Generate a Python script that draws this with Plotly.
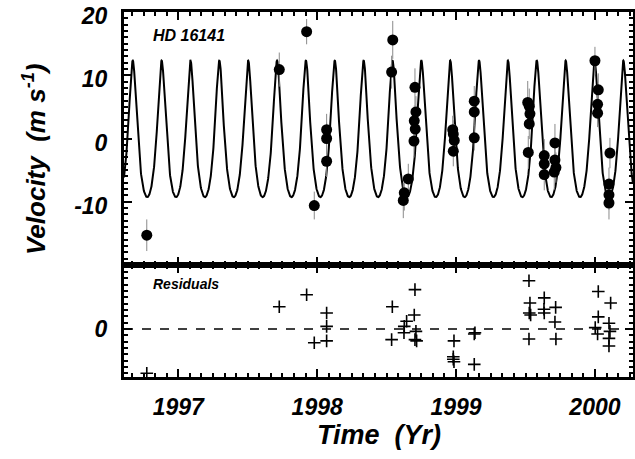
import numpy as np
import plotly.graph_objects as go
from plotly.subplots import make_subplots

# ---- data ----
obs_time = [1996.773, 1997.727, 1997.924, 1997.979, 1998.068, 1998.068, 1998.068,
            1998.544, 1998.536, 1998.656, 1998.627, 1998.620, 1998.704, 1998.711,
            1998.699, 1998.706, 1998.697, 1998.976, 1998.980, 1998.987, 1998.980,
            1999.131, 1999.131, 1999.131, 1999.516, 1999.527, 1999.532, 1999.527,
            1999.520, 1999.635, 1999.635, 1999.635, 1999.712, 1999.712, 1999.719,
            1999.707, 2000.000, 2000.024, 2000.019, 2000.019, 2000.108, 2000.101,
            2000.101, 2000.101]
obs_vel = [-15.3, 10.9, 16.9, -10.6, 1.4, 0.0, -3.6,
           15.6, 10.5, -6.4, -8.6, -9.8, 8.1, 4.2,
           2.8, 1.5, -0.4, 1.4, 0.7, -0.3, -2.0,
           5.9, 4.2, 0.1, 5.7, 5.1, 3.9, 2.3,
           -2.2, -2.7, -4.0, -5.7, -0.7, -3.4, -4.6,
           -5.3, 12.3, 7.7, 5.4, 4.0, -2.3, -7.2,
           -8.9, -10.2]
obs_err = [2.5, 2.7, 2.0, 2.2, 2.5, 2.5, 2.5,
           3.0, 2.6, 2.4, 2.8, 2.8, 3.0, 2.5,
           2.4, 2.5, 2.6, 2.2, 2.2, 2.6, 2.4,
           2.4, 2.2, 2.0, 3.4, 2.8, 2.5, 2.4,
           2.6, 2.6, 2.4, 2.5, 3.0, 2.6, 2.4,
           2.8, 2.2, 2.6, 2.4, 2.2, 2.4, 2.6,
           2.4, 2.6]

res_time = [1996.773, 1997.727, 1997.924, 1997.979, 1998.068, 1998.068, 1998.068,
            1998.541, 1998.536, 1998.644, 1998.627, 1998.625, 1998.704, 1998.699,
            1998.711, 1998.704, 1998.716, 1998.985, 1998.980, 1998.985, 1998.980,
            1999.136, 1999.131, 1999.131, 1999.525, 1999.532, 1999.527, 1999.537,
            1999.525, 1999.635, 1999.633, 1999.635, 1999.717, 1999.712, 1999.719,
            2000.024, 2000.024, 2000.002, 2000.019, 2000.113, 2000.101, 2000.108,
            2000.101, 2000.101]
res_vel = [-7.0, 3.5, 5.4, -2.2, 2.5, 0.4, -1.9,
           3.5, -1.7, 1.2, 0.4, -0.6, 6.2, 2.2,
           -0.4, -1.7, -1.9, -1.9, -4.4, -5.2, -4.8,
           -0.6, -0.8, -5.6, 7.6, 4.1, 2.5, 2.2,
           -1.6, 4.9, 3.1, 2.5, 3.4, 1.1, -1.6,
           5.9, 1.9, 0.2, -0.8, 4.1, 0.9, -0.4,
           -1.5, -2.7]

# orbital fit elements
orbit_period = 0.2078      # yr
orbit_K = 10.8             # m/s
orbit_e = 0.28
orbit_omega = 0.0          # rad
orbit_tperi = 1996.672     # yr
orbit_gamma = -1.5         # m/s

year_ticks = [1997, 1998, 1999, 2000]
vel_ticks = [-10, 0, 10, 20]
vel_tick_text = ["-10", "0", "10", "20"]
x_range = [1996.609, 2000.274]

# ---- model curve ----
t = np.linspace(x_range[0], x_range[1], 3000)
M = 2 * np.pi * (t - orbit_tperi) / orbit_period
E = M.copy()
for _ in range(30):
    E = E - (E - orbit_e * np.sin(E) - M) / (1 - orbit_e * np.cos(E))
nu = 2 * np.arctan2(np.sqrt(1 + orbit_e) * np.sin(E / 2), np.sqrt(1 - orbit_e) * np.cos(E / 2))
model = orbit_gamma + orbit_K * (np.cos(nu + orbit_omega) + orbit_e * np.cos(orbit_omega))

FONT = "Liberation Sans, Arial, sans-serif"

fig = make_subplots(rows=2, cols=1, shared_xaxes=True, vertical_spacing=0,
                    row_heights=[0.693, 0.307])

fig.add_trace(go.Scatter(x=t, y=model, mode="lines",
                         line=dict(color="black", width=2), hoverinfo="skip"), row=1, col=1)
fig.add_trace(go.Scatter(x=obs_time, y=obs_vel, mode="markers",
                         marker=dict(color="black", size=11),
                         error_y=dict(type="data", array=obs_err, color="#8a8a8a",
                                      thickness=1, width=0)), row=1, col=1)
fig.add_trace(go.Scatter(x=res_time, y=res_vel, mode="markers",
                         marker=dict(symbol="cross-thin", size=9,
                                     line=dict(color="black", width=1.6))), row=2, col=1)

minor_x = dict(dtick=1/12, tick0=1997, ticks="inside", ticklen=4,
               tickwidth=2, tickcolor="black")
minor_y = dict(dtick=1, tick0=0, ticks="inside", ticklen=4,
               tickwidth=2, tickcolor="black")

axis_common = dict(showline=True, linecolor="black", linewidth=3, mirror="ticks",
                   ticks="inside", tickcolor="black", tickwidth=2, ticklen=8,
                   showgrid=False, zeroline=False, automargin=False,
                   ticklabeloverflow="allow",
                   tickfont=dict(family=FONT, size=23, color="black",
                                 weight="bold", style="italic"))

fig.update_xaxes(**axis_common, range=x_range, tickvals=year_ticks, minor=minor_x)
fig.update_xaxes(showticklabels=False, row=1, col=1)
fig.update_xaxes(showticklabels=True, ticklabelstandoff=7, row=2, col=1)

fig.update_yaxes(**axis_common)
fig.update_yaxes(range=[-20, 20.01], tickvals=vel_ticks, ticktext=vel_tick_text,
                 minor=minor_y, ticklabelstandoff=9, ticklabelshift=4, row=1, col=1)
fig.update_yaxes(range=[-7.6, 10.1], tickvals=[0], ticktext=["0"], minor=minor_y,
                 ticklabelstandoff=9, row=2, col=1)

fig.add_shape(type="line", xref="x2 domain", yref="y2", x0=0, x1=1, y0=0, y1=0,
              line=dict(color="black", width=1.5, dash="dash"))

ann_font = dict(family=FONT, color="black", weight="bold", style="italic")
fig.add_annotation(text="HD 16141", xref="paper", yref="paper", x=0.054, y=0.935,
                   xanchor="left", yanchor="middle", showarrow=False,
                   font=dict(size=16, **ann_font))
fig.add_annotation(text="Residuals", xref="paper", yref="paper", x=0.054, y=0.255,
                   xanchor="left", yanchor="middle", showarrow=False,
                   font=dict(size=14, **ann_font))
fig.add_annotation(text="Velocity  (m s<sup>-1</sup>)", xref="paper", yref="paper",
                   x=-0.177, y=0.597, textangle=-90, xanchor="center", yanchor="middle",
                   showarrow=False, font=dict(size=26, **ann_font))
fig.add_annotation(text="Time  (Yr)", xref="paper", yref="paper",
                   x=0.5, y=-0.158, xanchor="center", yanchor="middle",
                   showarrow=False, font=dict(size=27, **ann_font))

fig.update_layout(width=635, height=459, showlegend=False,
                  paper_bgcolor="white", plot_bgcolor="white",
                  margin=dict(l=124, r=2, t=12, b=82))

fig.write_html("out.html", config={"displayModeBar": False},
               post_script="document.body.style.margin='0';")
